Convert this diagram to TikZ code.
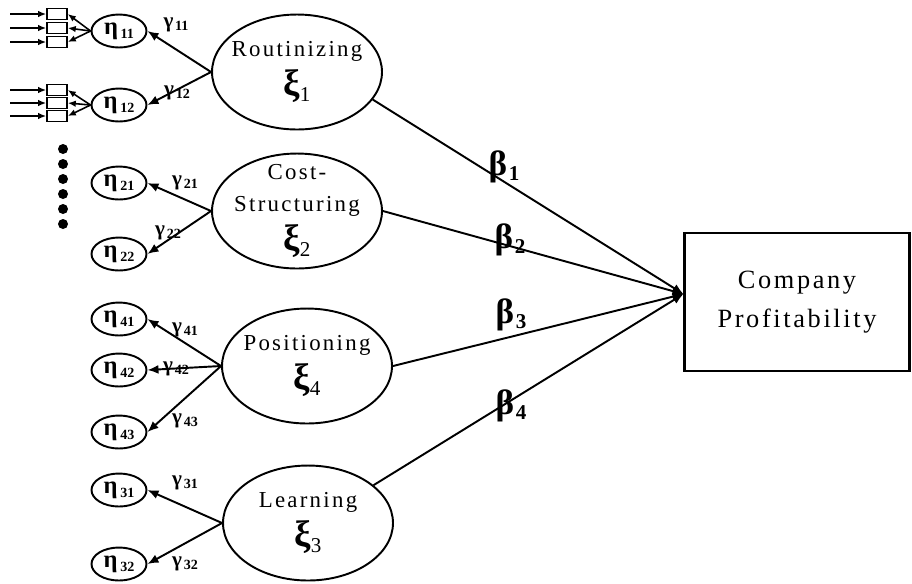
\documentclass[tikz,border=0pt]{standalone}
\usepackage{fontspec}
\setmainfont{Liberation Serif}
\newfontfamily\spaced[LetterSpace=10]{Liberation Serif}
\usetikzlibrary{arrows.meta,shapes.geometric}
\newcommand{\xiv}[1]{{\bfseries\fontsize{21}{21}\selectfont ξ}\raisebox{-0.6ex}{\fontsize{12}{12}\selectfont #1}}
\newcommand{\etav}[1]{{\bfseries\fontsize{14}{14}\selectfont η}\kern1.5pt\raisebox{-0.5ex}{\bfseries\fontsize{8}{8}\selectfont #1}}
\newcommand{\gammav}[1]{{\bfseries\fontsize{12}{12}\selectfont γ}\kern1pt\raisebox{-0.4ex}{\bfseries\fontsize{8}{8}\selectfont #1}}
\newcommand{\betav}[1]{{\bfseries\fontsize{20}{20}\selectfont β}\kern1pt\raisebox{-0.6ex}{\bfseries\fontsize{12}{12}\selectfont #1}}
\tikzset{latent/.style={draw,ellipse,line width=1.1pt,align=center,minimum width=3.4cm,minimum height=2.3cm,inner xsep=-6mm,inner ysep=-6mm,font=\spaced\fontsize{13}{18}\selectfont},ind/.style={draw,ellipse,line width=1.1pt,minimum width=1.1cm,minimum height=0.66cm,inner sep=0pt},item/.style={draw,line width=0.9pt,minimum width=0.4cm,minimum height=0.22cm,inner sep=0pt},target/.style={draw,line width=1.2pt,align=center,minimum width=4.5cm,minimum height=2.76cm,font=\spaced\fontsize{15}{22}\selectfont},arrow/.style={-{Latex[length=2.2mm,width=1.8mm]},line width=1.1pt},thin arrow/.style={-{Latex[length=1.6mm,width=1.3mm]},line width=0.9pt},lbl/.style={inner sep=1pt}}

\begin{document}
\begin{tikzpicture}[x=0.02cm,y=-0.02cm]
\useasboundingbox (0,0) rectangle (912,583);
% constructs
\node[latent] (rout) at (297,72) {Routinizing\\[4pt]\xiv{1}};
\node[latent] (cost) at (297,211) {Cost-\\Structuring\\[4pt]\xiv{2}};
\node[latent] (pos) at (307,366) {Positioning\\[4pt]\xiv{4}};
\node[latent] (learn) at (308,523) {Learning\\[4pt]\xiv{3}};
\node[target] (prof) at (797,302) {Company\\Profitability};
\coordinate (hub) at ([yshift=0.16cm]prof.west);
% indicators
\node[ind] (e11) at (119,31) {\etav{11}};
\node[ind] (e12) at (119,105) {\etav{12}};
\node[ind] (e21) at (119,183) {\etav{21}};
\node[ind] (e22) at (119,254) {\etav{22}};
\node[ind] (e41) at (119,319) {\etav{41}};
\node[ind] (e42) at (119,370) {\etav{42}};
\node[ind] (e43) at (119,432) {\etav{43}};
\node[ind] (e31) at (119,490) {\etav{31}};
\node[ind] (e32) at (119,564) {\etav{32}};
% items under eta 11 and eta 12
\foreach \i/\y in {1/14,2/28,3/42} {
  \node[item] (x11\i) at (57,\y) {};
  \coordinate (in11\i) at (10,\y);
  \draw[thin arrow] (in11\i) -- (x11\i);
  \draw[thin arrow] (e11.west) -- (x11\i.east);
}
\foreach \i/\y in {1/90,2/103,3/116} {
  \node[item] (x12\i) at (57,\y) {};
  \coordinate (in12\i) at (10,\y);
  \draw[thin arrow] (in12\i) -- (x12\i);
  \draw[thin arrow] (e12.west) -- (x12\i.east);
}
\foreach \y in {149,164,179,194,209,224} \fill (63,\y) circle (0.1cm);
% loadings
\draw[arrow] (rout.west) -- (e11.east); \draw[arrow] (rout.west) -- (e12.east);
\draw[arrow] (cost.west) -- (e21.east); \draw[arrow] (cost.west) -- (e22.east);
\draw[arrow] (pos.west) -- (e41.east); \draw[arrow] (pos.west) -- (e42.east); \draw[arrow] (pos.west) -- (e43.east);
\draw[arrow] (learn.west) -- (e31.east); \draw[arrow] (learn.west) -- (e32.east);
\node[lbl] (g11) at (176,25) {\gammav{11}};
\node[lbl] (g12) at (177,93) {\gammav{12}};
\node[lbl] (g21) at (185,183) {\gammav{21}};
\node[lbl] (g22) at (168,233) {\gammav{22}};
\node[lbl] (g41) at (185,330) {\gammav{41}};
\node[lbl] (g42) at (176,369) {\gammav{42}};
\node[lbl] (g43) at (185,421) {\gammav{43}};
\node[lbl] (g31) at (185,483) {\gammav{31}};
\node[lbl] (g32) at (185,564) {\gammav{32}};
% paths
\draw[arrow] (rout.-20) -- (hub); \draw[arrow] (cost.east) -- (hub);
\draw[arrow] (pos.east) -- (hub); \draw[arrow] (learn.30) -- (hub);
\node[lbl] (b1) at (504,167) {\betav{1}};
\node[lbl] (b2) at (510,240) {\betav{2}};
\node[lbl] (b3) at (511,315) {\betav{3}};
\node[lbl] (b4) at (511,406) {\betav{4}};
\end{tikzpicture}
\end{document}
